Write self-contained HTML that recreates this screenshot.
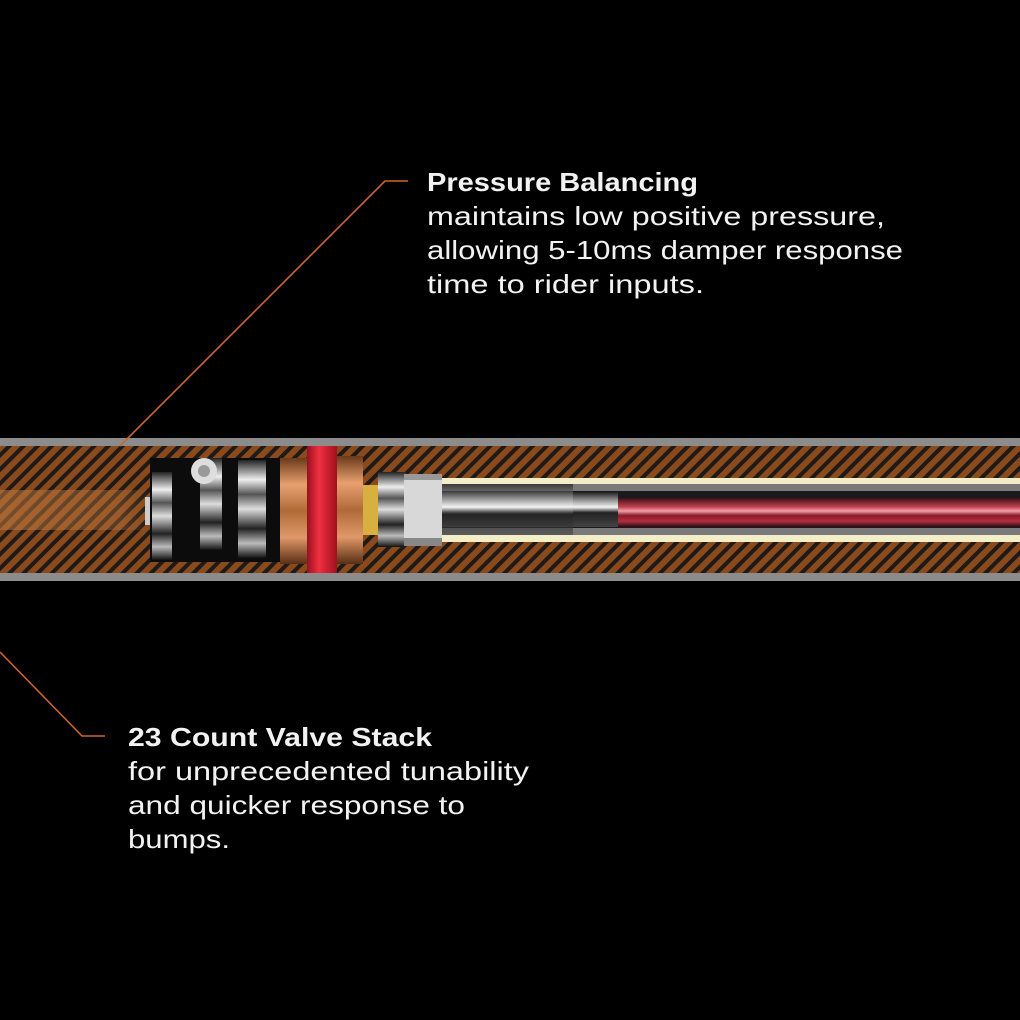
<!DOCTYPE html>
<html><head><meta charset="utf-8"><style>
html,body{margin:0;padding:0;background:#000;}
svg{display:block}
text{font-family:"Liberation Sans",sans-serif;fill:#f2f2f2;font-size:26px}
</style></head><body>
<svg width="1020" height="1020" viewBox="0 0 1020 1020" xmlns="http://www.w3.org/2000/svg">
<defs>
<pattern id="hatch" patternUnits="userSpaceOnUse" width="10" height="10" patternTransform="rotate(45)">
<rect width="10" height="10" fill="#8a4a1c"/>
<rect width="4" height="10" fill="#1e1a18"/>
</pattern>
<linearGradient id="glow" x1="0" x2="1" y1="0" y2="0">
<stop offset="0" stop-color="#c07a40" stop-opacity="0.55"/>
<stop offset="0.8" stop-color="#c07a40" stop-opacity="0.35"/>
<stop offset="1" stop-color="#c07a40" stop-opacity="0"/>
</linearGradient>
<linearGradient id="chrome" x1="0" x2="0" y1="0" y2="1">
<stop offset="0" stop-color="#222"/><stop offset="0.2" stop-color="#eee"/><stop offset="0.35" stop-color="#555"/><stop offset="0.5" stop-color="#ddd"/><stop offset="0.7" stop-color="#222"/><stop offset="0.85" stop-color="#bbb"/><stop offset="1" stop-color="#111"/>
</linearGradient>
<linearGradient id="copper" x1="0" x2="0" y1="0" y2="1">
<stop offset="0" stop-color="#6a3a1a"/><stop offset="0.25" stop-color="#e8a070"/><stop offset="0.5" stop-color="#b06a38"/><stop offset="0.75" stop-color="#e09868"/><stop offset="1" stop-color="#5a2e14"/>
</linearGradient>
<linearGradient id="red" x1="0" x2="1" y1="0" y2="0">
<stop offset="0" stop-color="#9a1020"/><stop offset="0.4" stop-color="#f03040"/><stop offset="1" stop-color="#a01020"/>
</linearGradient>
<linearGradient id="rod" x1="0" x2="0" y1="0" y2="1">
<stop offset="0" stop-color="#3a1015"/><stop offset="0.3" stop-color="#c04050"/><stop offset="0.45" stop-color="#f0a0a8"/><stop offset="0.6" stop-color="#8a1a25"/><stop offset="0.8" stop-color="#b03040"/><stop offset="1" stop-color="#2a0a10"/>
</linearGradient>
<linearGradient id="shaft" x1="0" x2="0" y1="0" y2="1">
<stop offset="0" stop-color="#111"/><stop offset="0.2" stop-color="#777"/><stop offset="0.45" stop-color="#f4f4f4"/><stop offset="0.6" stop-color="#222"/><stop offset="1" stop-color="#444"/>
</linearGradient>
</defs>

<!-- tube -->
<rect x="0" y="438" width="1020" height="143" fill="#8c8c8c"/>
<rect x="0" y="446" width="1020" height="127" fill="url(#hatch)"/>
<rect x="0" y="490" width="150" height="40" fill="url(#glow)"/>
<!-- inner bore -->
<rect x="440" y="478" width="580" height="64" fill="#f4eec8"/>
<rect x="440" y="484" width="580" height="51" fill="#7a7a7a"/>
<rect x="440" y="491" width="580" height="37" fill="#1a1a1e"/>
<rect x="617" y="498" width="403" height="29" fill="url(#rod)"/>
<rect x="440" y="491" width="178" height="36" fill="url(#shaft)"/>
<rect x="440" y="484" width="133" height="51" fill="url(#shaft)" opacity="0.6"/>
<!-- piston assembly -->
<rect x="145" y="497" width="10" height="28" fill="#ccc"/>
<rect x="150" y="458" width="130" height="104" fill="#0c0c0c"/>
<rect x="152" y="472" width="20" height="88" fill="url(#chrome)"/>
<rect x="200" y="458" width="22" height="92" fill="url(#chrome)"/>
<circle cx="204" cy="471" r="13" fill="#ddd"/><circle cx="204" cy="471" r="6" fill="#999"/>
<rect x="238" y="460" width="28" height="98" fill="url(#chrome)"/>
<rect x="280" y="458" width="27" height="106" fill="url(#copper)"/>
<rect x="307" y="446" width="30" height="127" fill="url(#red)"/>
<rect x="337" y="456" width="26" height="108" fill="url(#copper)"/>
<rect x="363" y="485" width="15" height="50" fill="#d8b040"/>
<rect x="378" y="472" width="28" height="75" fill="url(#chrome)"/>
<rect x="404" y="474" width="38" height="72" fill="#d8d8d8"/>
<rect x="404" y="474" width="38" height="6" fill="#999"/>
<rect x="404" y="538" width="38" height="8" fill="#888"/>

<!-- leaders -->
<polyline points="408,181 385,181 120,446" fill="none" stroke="#d0642a" stroke-width="1.6"/>
<polyline points="0,652 82,736 105,736" fill="none" stroke="#d0642a" stroke-width="1.6"/>

<!-- text -->
<text x="427" y="191" font-weight="bold" textLength="271" lengthAdjust="spacingAndGlyphs">Pressure Balancing</text>
<text x="427" y="225" textLength="458" lengthAdjust="spacingAndGlyphs">maintains low positive pressure,</text>
<text x="427" y="259" textLength="476" lengthAdjust="spacingAndGlyphs">allowing 5-10ms damper response</text>
<text x="427" y="293" textLength="277" lengthAdjust="spacingAndGlyphs">time to rider inputs.</text>
<text x="128" y="746" font-weight="bold" textLength="304" lengthAdjust="spacingAndGlyphs">23 Count Valve Stack</text>
<text x="128" y="780" textLength="401" lengthAdjust="spacingAndGlyphs">for unprecedented tunability</text>
<text x="128" y="814" textLength="337" lengthAdjust="spacingAndGlyphs">and quicker response to</text>
<text x="128" y="848" textLength="102" lengthAdjust="spacingAndGlyphs">bumps.</text>
</svg>
</body></html>
